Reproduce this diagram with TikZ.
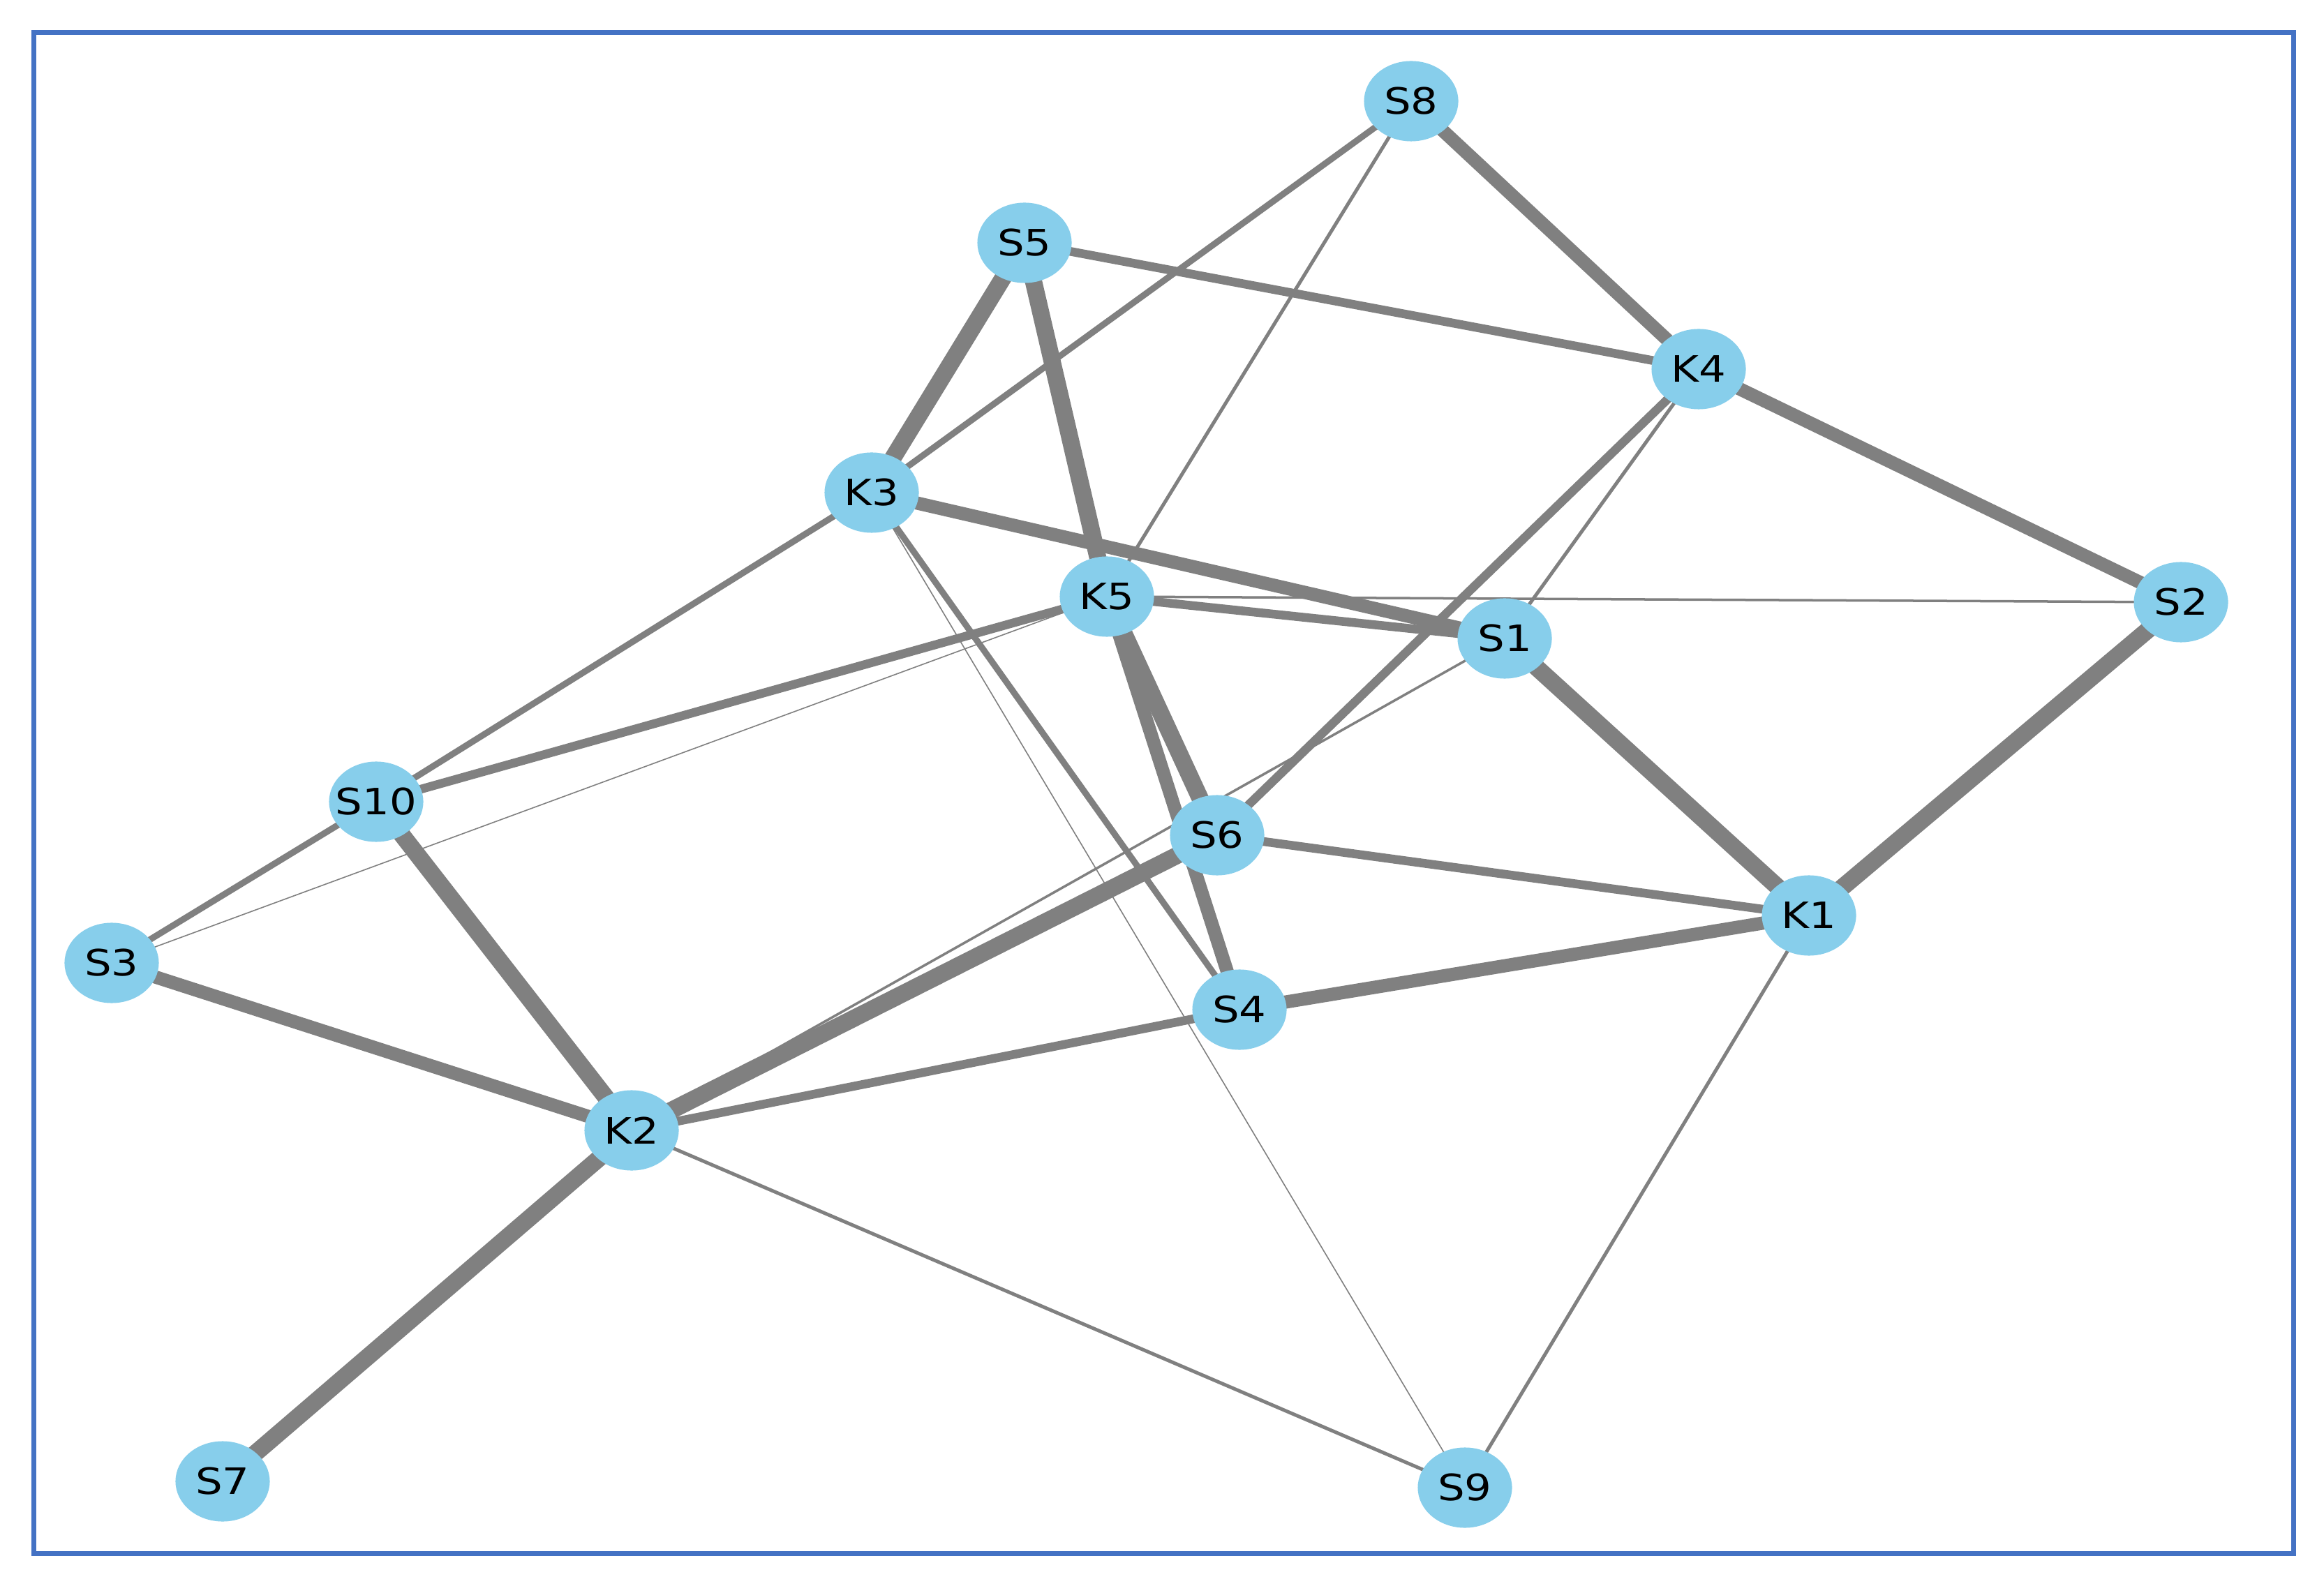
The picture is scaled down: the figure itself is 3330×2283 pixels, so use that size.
\documentclass[tikz,border=0pt]{standalone}
\usepackage{fontspec}
\newfontfamily\nodefont[FakeStretch=1.17]{DejaVu Sans}
\usetikzlibrary{shapes.geometric}
\definecolor{nodeblue}{HTML}{87CEEB}
\definecolor{edgegray}{HTML}{808080}
\definecolor{frameblue}{HTML}{4472C4}
\pgfdeclarelayer{background}
\pgfsetlayers{background,main}
\newcommand{\vlab}[1]{\makebox[0pt]{#1}}
\begin{document}
\begin{tikzpicture}[x=0.01cm,y=-0.01cm,
  vtx/.style={ellipse, fill=nodeblue, minimum width=1.35cm, minimum height=1.15cm,
    inner sep=0pt, outer sep=0pt, font=\nodefont\fontsize{14.8pt}{16pt}\selectfont},
  edge/.style={draw=edgegray, line cap=butt},
  wA/.style={edge, line width=0.016cm},
  wB/.style={edge, line width=0.035cm},
  wC/.style={edge, line width=0.05cm},
  wD/.style={edge, line width=0.09cm},
  wE/.style={edge, line width=0.125cm},
  wF/.style={edge, line width=0.19cm},
  wG/.style={edge, line width=0.245cm},
  frame/.style={draw=frameblue, line width=0.07cm}
]
\useasboundingbox (0,0) rectangle (3330,2283);
\begin{pgfonlayer}{background}
  \fill[white] (0,0) rectangle (3330,2283);
\end{pgfonlayer}
\draw[frame] (48.5,47) rectangle (3286.5,2226.5);

\node[vtx] (S8)  at (2022,145)  {\vlab{S8}};
\node[vtx] (S5)  at (1468,348)  {\vlab{S5}};
\node[vtx] (K4)  at (2434,529)  {\vlab{K4}};
\node[vtx] (K3)  at (1249,706)  {\vlab{K3}};
\node[vtx] (K5)  at (1586,855)  {\vlab{K5}};
\node[vtx] (S1)  at (2156,915)  {\vlab{S1}};
\node[vtx] (S2)  at (3125,863)  {\vlab{S2}};
\node[vtx] (S10) at (539,1149)  {\vlab{S10}};
\node[vtx] (S6)  at (1744,1197) {\vlab{S6}};
\node[vtx] (K1)  at (2592,1312) {\vlab{K1}};
\node[vtx] (S3)  at (160,1380)  {\vlab{S3}};
\node[vtx] (S4)  at (1776,1447) {\vlab{S4}};
\node[vtx] (K2)  at (905,1620)  {\vlab{K2}};
\node[vtx] (S7)  at (319,2123)  {\vlab{S7}};
\node[vtx] (S9)  at (2099,2132) {\vlab{S9}};

\begin{pgfonlayer}{background}
  % very thin
  \draw[wA] (K3.center) -- (S9.center);
  \draw[wA] (K5.center) -- (S3.center);
  % thin
  \draw[wB] (S1.center) -- (K2.center);
  \draw[wB] (K5.center) -- (S2.center);
  \draw[wC] (S8.center) -- (K5.center);
  \draw[wC] (K4.center) -- (S1.center);
  \draw[wC] (K1.center) -- (S9.center);
  \draw[wC] (K2.center) -- (S9.center);
  % medium
  \draw[wD] (S8.center) -- (K3.center);
  \draw[wD] (K3.center) -- (S10.center);
  \draw[wD] (K3.center) -- (S4.center);
  \draw[wD] (S10.center) -- (S3.center);
  \draw[wE] (S5.center) -- (K4.center);
  \draw[wE] (K5.center) -- (S10.center);
  \draw[wE] (K5.center) -- (S1.center);
  \draw[wE] (S6.center) -- (K1.center);
  \draw[wE] (K4.center) -- (S6.center);
  \draw[wE] (S4.center) -- (K2.center);
  % thick
  \draw[wF] (S8.center) -- (K4.center);
  \draw[wF] (K4.center) -- (S2.center);
  \draw[wF] (K1.center) -- (S4.center);
  \draw[wF] (K3.center) -- (S1.center);
  \draw[wF] (S3.center) -- (K2.center);
  \draw[wF] (K5.center) -- (S4.center);
  % thickest
  \draw[wG] (S5.center) -- (K3.center);
  \draw[wG] (S5.center) -- (K5.center);
  \draw[wG] (K5.center) -- (S6.center);
  \draw[wG] (S1.center) -- (K1.center);
  \draw[wG] (S2.center) -- (K1.center);
  \draw[wG] (S10.center) -- (K2.center);
  \draw[wG] (S6.center) -- (K2.center);
  \draw[wG] (K2.center) -- (S7.center);
\end{pgfonlayer}
\end{tikzpicture}
\end{document}
